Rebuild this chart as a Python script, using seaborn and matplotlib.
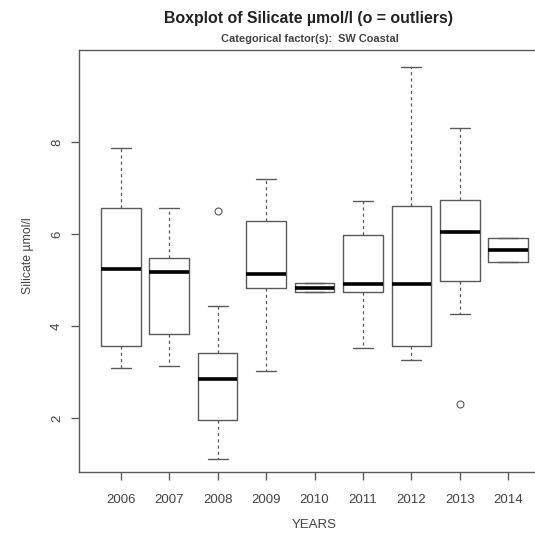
import matplotlib
matplotlib.use("Agg")
import matplotlib.pyplot as plt
import seaborn as sns

# Five-number summaries of silicate (µmol/l) per year, SW Coastal
years = ["2006", "2007", "2008", "2009", "2010", "2011", "2012", "2013", "2014"]
whisker_low = [3.08, 3.13, 1.12, 3.03, 4.74, 3.53, 3.26, 4.26, 5.40]
q1 = [3.57, 3.83, 1.95, 4.83, 4.74, 4.75, 3.57, 4.99, 5.40]
median = [5.24, 5.17, 2.86, 5.13, 4.83, 4.92, 4.92, 6.04, 5.66]
q3 = [6.57, 5.48, 3.42, 6.29, 4.93, 5.98, 6.61, 6.75, 5.92]
whisker_high = [7.88, 6.57, 4.44, 7.19, 4.93, 6.71, 9.63, 8.31, 5.92]
outliers = [[], [], [6.50], [], [], [], [], [2.30], []]

sns.set_style("white")
plt.rcParams["font.family"] = ["Liberation Sans", "DejaVu Sans"]

TEXT = "#444444"
LINE = "#5a5a5a"

fig = plt.figure(figsize=(5.35, 5.40), dpi=100)
ax = fig.add_axes([79 / 535, 68 / 540, 471 / 535, 422 / 540])

stats = []
for i, yr in enumerate(years):
    stats.append(dict(label=yr, whislo=whisker_low[i], q1=q1[i], med=median[i],
                      q3=q3[i], whishi=whisker_high[i], fliers=outliers[i]))

positions = list(range(1, len(years) + 1))
ax.bxp(stats, positions=positions, widths=0.82, capwidths=0.41,
       showfliers=True, patch_artist=False,
       boxprops=dict(color=LINE, linewidth=1.0),
       whiskerprops=dict(color=LINE, linewidth=0.9, linestyle=(0, (2.5, 2.5))),
       capprops=dict(color=LINE, linewidth=1.0),
       medianprops=dict(color="black", linewidth=2.6, solid_capstyle="butt"),
       flierprops=dict(marker="o", markersize=5, markerfacecolor="none",
                       markeredgecolor=LINE, markeredgewidth=0.8))

ax.set_xlim(0.14, 9.86)
ax.set_ylim(0.83, 10.0)
ax.set_xticks(positions)
ax.set_xticklabels(years)
ax.set_yticks([2, 4, 6, 8])
ax.set_yticklabels(["2", "4", "6", "8"], rotation=90, va="center")

for side in ["left", "bottom", "top", "right"]:
    ax.spines[side].set_visible(True)
    ax.spines[side].set_color(LINE)
    ax.spines[side].set_linewidth(1.0)

ax.tick_params(axis="both", which="major", direction="out", length=5.5, width=1.0,
               color=LINE, labelcolor=TEXT, labelsize=9.5,
               bottom=True, left=True)
ax.tick_params(axis="x", pad=10)
ax.tick_params(axis="y", pad=6)

ax.set_xlabel("YEARS", color=TEXT, fontsize=9.5, labelpad=10)
ax.set_ylabel("Silicate µmol/l", color=TEXT, fontsize=8.8)
ax.yaxis.set_label_coords(34 / 535, 1 - 256 / 540, transform=fig.transFigure)

fig.text(0.577, 1 - 19 / 540, "Boxplot of Silicate µmol/l (o = outliers)",
         ha="center", va="center", fontsize=11.4, fontweight="bold", color="#222222")
fig.text(0.579, 1 - 39 / 540, "Categorical factor(s):  SW Coastal",
         ha="center", va="center", fontsize=7.9, fontweight="bold", color="#444444")

fig.savefig("out.png", dpi=100)
